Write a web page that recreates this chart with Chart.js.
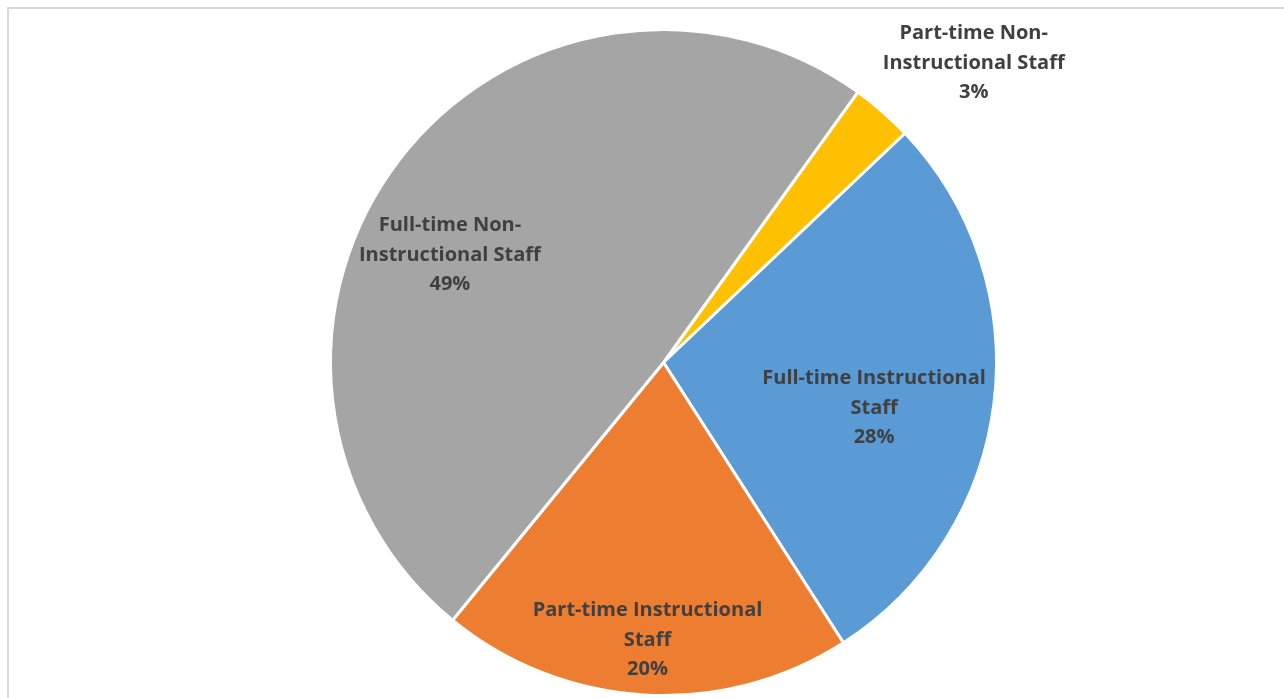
<!DOCTYPE html>
<html>
<head>
<meta charset="utf-8">
<script src="https://cdn.jsdelivr.net/npm/chart.js@4/dist/chart.umd.min.js"></script>
<style>
  html, body { margin: 0; padding: 0; background: #fff; overflow: hidden; }
  #frame {
    position: absolute; left: 7px; top: 7px; width: 1300px; height: 720px;
    border: 2px solid #d9d9d9; box-sizing: border-box;
  }
  #wrap { position: absolute; left: 0; top: 0; width: 1284px; height: 698px; }
</style>
</head>
<body>
<div id="frame"></div>
<div id="wrap"><canvas id="staffChart"></canvas></div>
<script>
const categories = [
    ['Part-time Non-', 'Instructional Staff'],
    ['Full-time Instructional', 'Staff'],
    ['Part-time Instructional', 'Staff'],
    ['Full-time Non-', 'Instructional Staff']
];
const shares = [3, 28, 20, 49];
const sliceColors = ['#FFC000', '#5B9BD5', '#ED7D31', '#A5A5A5'];

// label placement: [fraction of radius, angle shift in degrees]
const labelSpots = [[1.295, 4.9], [0.647, 5.3], [0.835, 0], [0.718, -10.8]];

const sliceLabels = {
    id: 'sliceLabels',
    afterDatasetsDraw(chart) {
        const ctx = chart.ctx;
        const meta = chart.getDatasetMeta(0);
        const total = shares.reduce((a, b) => a + b, 0);
        ctx.save();
        ctx.font = 'bold 20px "Open Sans"';
        ctx.fillStyle = '#404040';
        ctx.textAlign = 'center';
        ctx.textBaseline = 'middle';
        meta.data.forEach((arc, i) => {
            const mid = (arc.startAngle + arc.endAngle) / 2 + labelSpots[i][1] * Math.PI / 180;
            const r = arc.outerRadius * labelSpots[i][0];
            const x = arc.x + Math.cos(mid) * r;
            const y = arc.y + Math.sin(mid) * r;
            const lines = categories[i].concat([Math.round(shares[i] / total * 100) + '%']);
            const lh = 29.5;
            lines.forEach((t, k) => {
                ctx.fillText(t, x, y + (k - (lines.length - 1) / 2) * lh);
            });
        });
        ctx.restore();
    }
};

document.addEventListener("DOMContentLoaded", function() {
    const ctx = document.getElementById('staffChart').getContext('2d');
    new Chart(ctx, {
        type: 'pie',
        data: {
            labels: categories.map(c => c.join(' ')),
            datasets: [{
                data: shares,
                backgroundColor: sliceColors,
                borderColor: '#ffffff',
                borderWidth: 3
            }]
        },
        options: {
            responsive: true,
            maintainAspectRatio: false,
            animation: false,
            rotation: 35.7,
            layout: { padding: { left: 329, right: 286, top: 28, bottom: 1 } },
            plugins: {
                legend: { display: false },
                tooltip: { enabled: false }
            },
            events: []
        },
        plugins: [sliceLabels]
    });
});
</script>
</body>
</html>
